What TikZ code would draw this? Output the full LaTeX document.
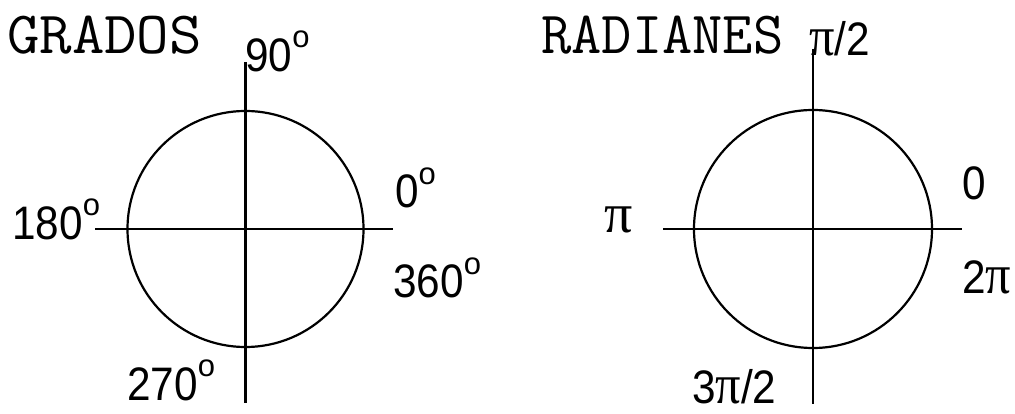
\documentclass[tikz,border=0pt]{standalone}
\usepackage{fontspec}
\setmainfont{Liberation Sans}
\newfontfamily\serifpi{Liberation Serif}
\newcommand{\dg}{\raisebox{24pt}{\fontsize{31}{31}\selectfont o}}
\newcommand{\nar}[1]{\scalebox{0.9}[1]{#1}}
\newcommand{\pii}{{\serifpi\fontsize{56}{56}\selectfont π}}
\tikzset{
  axis/.style={line width=2.8pt, black},
  circ/.style={line width=2.2pt, black},
  lbl/.style={anchor=base west, inner sep=0pt, font=\fontsize{47}{47}\selectfont},
  ttl/.style={anchor=base west, inner sep=0pt, font=\ttfamily\fontsize{60}{60}\selectfont}
}
\begin{document}
\begin{tikzpicture}[x=1pt,y=-1pt]
\useasboundingbox (0,0) rectangle (1015,414);
% left
\coordinate (c1) at (245.5,229);
\coordinate (t1) at (245.5,62);
\coordinate (b1) at (245.5,403);
\coordinate (l1) at (95,229);
\coordinate (r1) at (393,229);
\draw[circ] (c1) circle (118pt);
\draw[axis] (t1) -- (b1);
\draw[axis] (l1) -- (r1);
\node[ttl] (grados) at (7,54) {\scalebox{1.05}[1]{GRADOS}};
\node[lbl] (n90) at (245,72) {\nar{90}\dg};
\node[lbl] (n0) at (395,208) {\nar{0}\dg};
\node[lbl] (n180) at (12,240) {\nar{180}\dg};
\node[lbl] (n360) at (393,298) {\nar{360}\dg};
\node[lbl] (n270) at (127,400) {\nar{270}\dg};
% right
\coordinate (c2) at (813,229);
\coordinate (t2) at (813,49);
\coordinate (b2) at (813,404);
\coordinate (l2) at (663,229);
\coordinate (r2) at (962,229);
\draw[circ] (c2) circle (119pt);
\draw[axis] (t2) -- (b2);
\draw[axis] (l2) -- (r2);
\node[ttl] (rad) at (541,54) {\scalebox{0.98}[1]{RADIANES}};
\node[lbl] (p2) at (809,56) {\nar{\pii/2}};
\node[lbl] (p) at (604,233) {\pii};
\node[lbl] (z) at (962,200) {\nar{0}};
\node[lbl] (tp) at (962,293) {\nar{2\pii}};
\node[lbl] (tp2) at (692,403) {\nar{3\pii/2}};
\end{tikzpicture}
\end{document}
